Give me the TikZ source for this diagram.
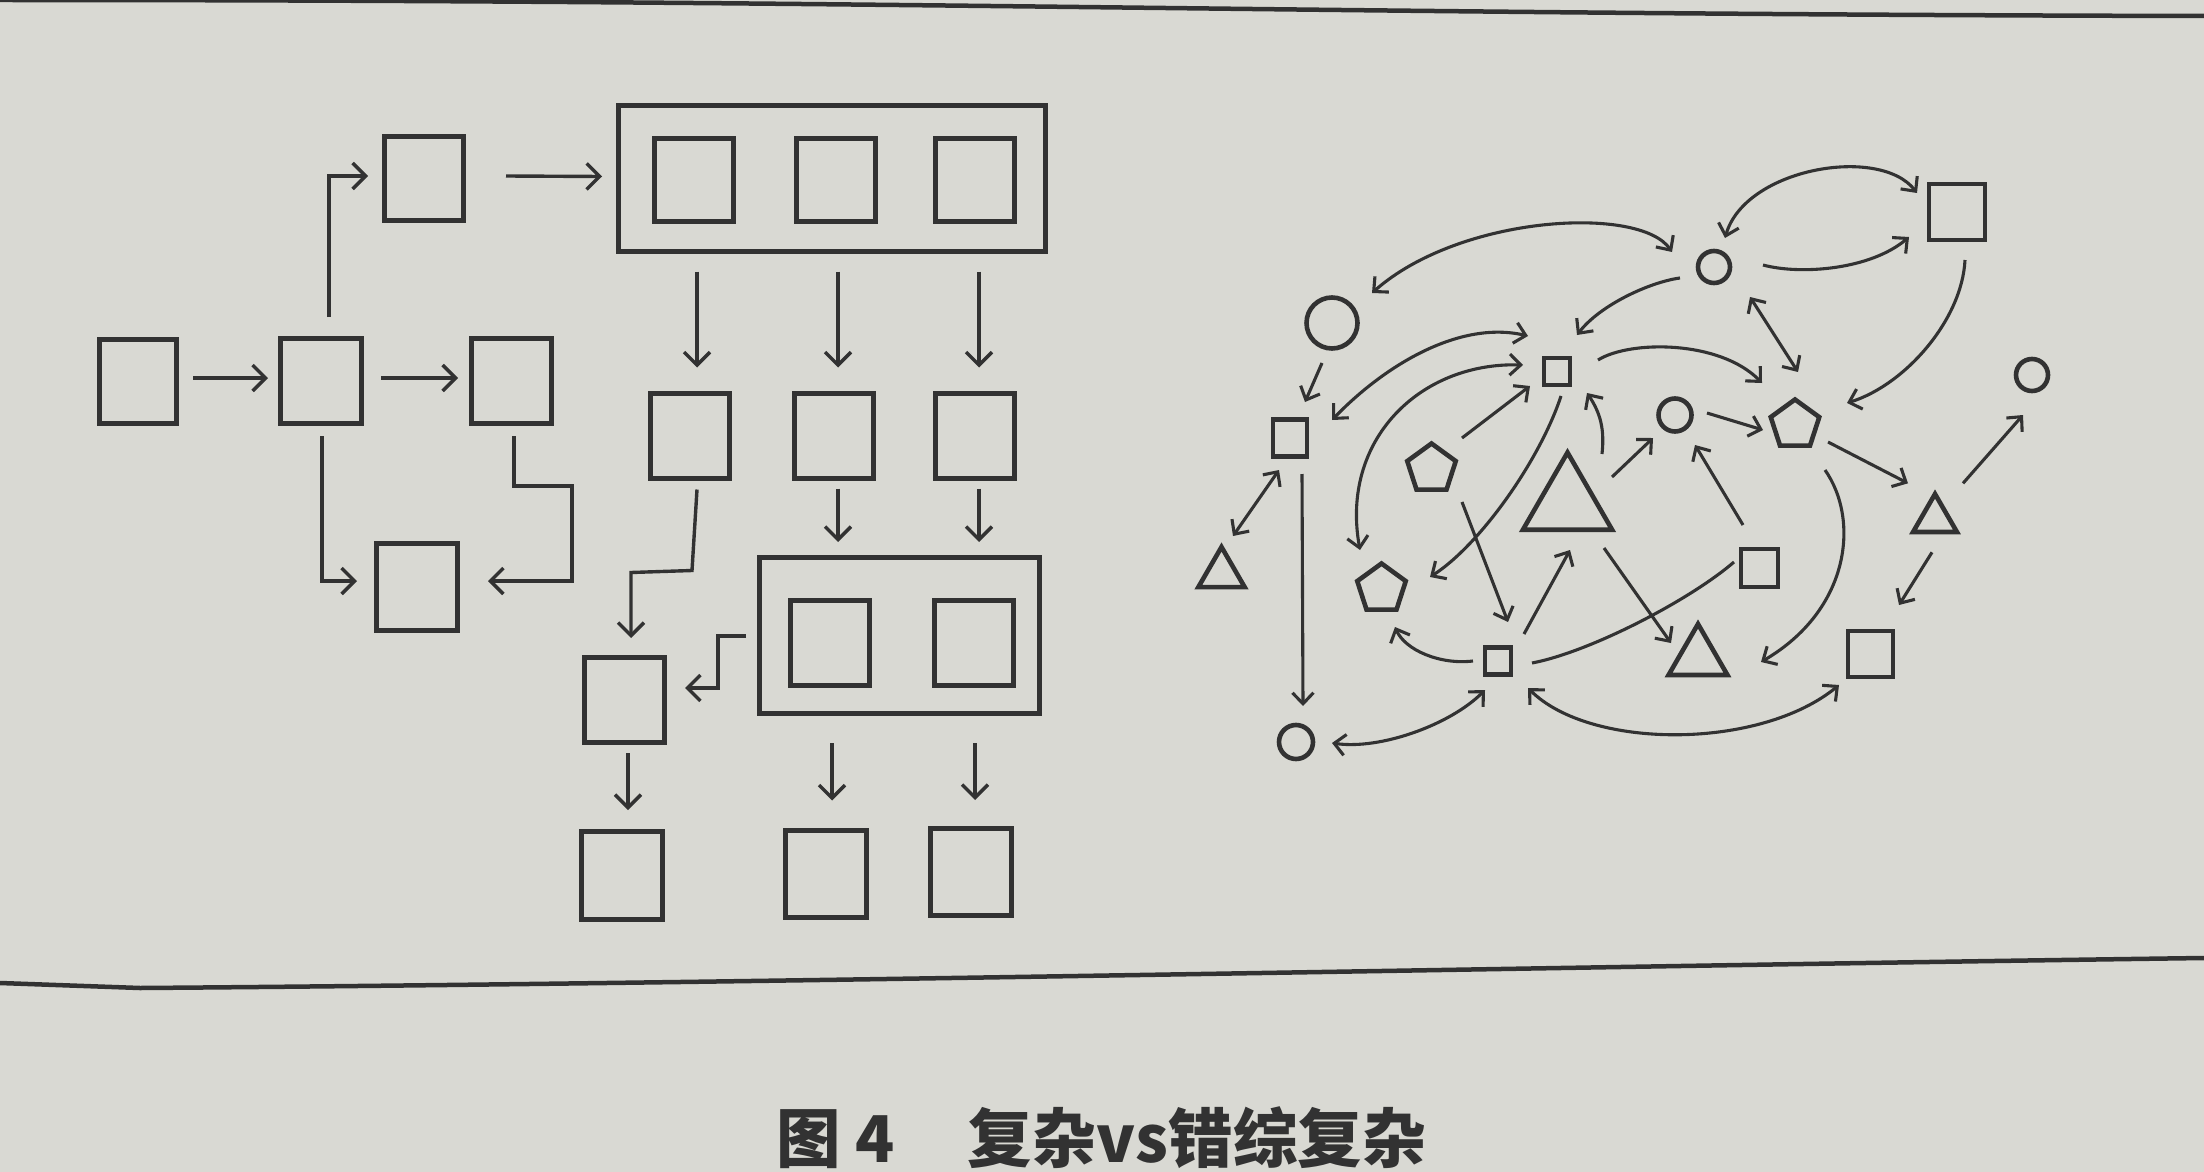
\documentclass[tikz,border=0pt]{standalone}
\usepackage{fontspec}
\newfontfamily\cjk{Noto Sans CJK SC}
\usetikzlibrary{arrows.meta,shapes.geometric}
\definecolor{inkc}{RGB}{50,50,50}
\definecolor{paper}{RGB}{217,217,211}
\begin{document}
\begin{tikzpicture}[x=1pt,y=-1pt,
  box/.style={draw=inkc, line width=5pt, rectangle, inner sep=0pt, minimum width=79pt, minimum height=85pt},
  framebox/.style={draw=inkc, line width=5pt, rectangle, inner sep=0pt},
  arrL/.style={draw=inkc, line width=3.4pt, -{Straight Barb[length=13pt,width=26pt]}},
  gsq/.style={draw=inkc, line width=4.6pt, rectangle, inner sep=0pt},
  gci/.style={draw=inkc, line width=4.6pt, circle, inner sep=0pt},
  gpe/.style={draw=inkc, line width=4.6pt, regular polygon, regular polygon sides=5, inner sep=0pt, minimum size=51pt},
  gtr/.style={draw=inkc, line width=4.6pt, regular polygon, regular polygon sides=3, inner sep=0pt},
  ed/.style={draw=inkc, line width=3.1pt},
  ea/.style={ed, -{Straight Barb[length=11pt,width=21pt]}},
  eb/.style={ed, {Straight Barb[length=11pt,width=21pt]}-{Straight Barb[length=11pt,width=21pt]}},
  pageline/.style={draw=inkc, line width=4.5pt}
]
\fill[paper] (0,0) rectangle (2204,1172);
\useasboundingbox (0,0) rectangle (2204,1172);

% page rules
\draw[pageline] (0,0) .. controls (900,0) and (1300,14) .. (2204,16);
\draw[pageline] (0,983) -- (140,988) .. controls (800,983) and (1600,966) .. (2204,958);

% ---------- left diagram ----------
\node[box, minimum width=77pt, minimum height=84pt] (nA) at (138,381.5) {};
\node[box, minimum width=81pt] (nB) at (321,381) {};
\node[box, minimum width=80pt] (nC) at (511.5,381) {};
\node[box, minimum height=84pt] (nD) at (424,178.5) {};
\node[box, minimum width=81pt, minimum height=87pt] (nE) at (417,587) {};
\node[framebox, minimum width=427pt, minimum height=146pt] (nF) at (832,178) {};
\node[box, minimum height=83pt] (f1) at (694,180) {};
\node[box, minimum height=83pt] (f2) at (835.5,180) {};
\node[box, minimum height=83pt] (f3) at (974.5,180) {};
\node[box] (m1) at (690,435.5) {};
\node[box] (m2) at (833.5,435.5) {};
\node[box] (m3) at (974.5,435.5) {};
\node[framebox, minimum width=280pt, minimum height=156pt] (nG) at (899.5,635.5) {};
\node[box] (g1) at (830,643) {};
\node[box] (g2) at (973.5,643) {};
\node[box, minimum width=80pt] (nH) at (624.5,700) {};
\node[box, minimum width=81pt, minimum height=88pt] (b1) at (622,875.5) {};
\node[box, minimum width=81pt, minimum height=87pt] (b2) at (826,873.5) {};
\node[box, minimum width=81pt, minimum height=87pt] (b3) at (971,872) {};

\draw[arrL] ([shift={(14,-3.5)}]nA.east) -- ([shift={(-10,-3)}]nB.west);
\draw[arrL] ([shift={(17,-3)}]nB.east) -- ([shift={(-11,-3)}]nC.west);
\draw[arrL] ([shift={(8,-19)}]nB.north) |- ([shift={(-14,-2.5)}]nD.west);
\draw[arrL] ([shift={(40,-2.5)}]nD.east) -- ([shift={(-14,-2)}]nD.east -| nF.west);
\draw[arrL] ([shift={(1,10)}]nB.south) |- ([shift={(-17,-6)}]nE.west);
\draw[arrL] ([shift={(2.5,10)}]nC.south) -- ++(0,50) -- ++(58,0) |- ([shift={(28,-6)}]nE.east);
\draw[arrL] ([shift={(3,18)}]f1.south |- nF.south) -- ([shift={(7,-23)}]m1.north);
\draw[arrL] ([shift={(2.5,18)}]f2.south |- nF.south) -- ([shift={(4.5,-23)}]m2.north);
\draw[arrL] ([shift={(4.5,18)}]f3.south |- nF.south) -- ([shift={(4.5,-23)}]m3.north);
\draw[arrL] ([shift={(4.5,8)}]m2.south) -- ([shift={(4.5,-13)}]m2.south |- nG.north);
\draw[arrL] ([shift={(4.5,8)}]m3.south) -- ([shift={(4.5,-13)}]m3.south |- nG.north);
\draw[arrL] ([shift={(7,9)}]m1.south) -- ++(-5,81) -- ++(-61,2) -- ([shift={(6.5,-17)}]nH.north);
\draw[arrL] ([shift={(-11,0.5)}]nG.west) -- ++(-28,0) |- ([shift={(18,-12)}]nH.east);
\draw[arrL] ([shift={(3.5,8)}]nH.south) -- ([shift={(6,-19)}]b1.north);
\draw[arrL] ([shift={(2,27)}]g1.south |- nG.south) -- ([shift={(6,-27)}]b2.north);
\draw[arrL] ([shift={(1.5,27)}]g2.south |- nG.south) -- ([shift={(4,-26)}]b3.north);

% ---------- right diagram ----------
\node[gsq, minimum width=56pt, minimum height=56pt] (sqB) at (1957,212) {};
\node[gci, minimum size=32pt] (cT) at (1714,267) {};
\node[gci, minimum size=51pt] (cBig) at (1332,323) {};
\node[gsq, minimum width=26pt, minimum height=27pt] (sq4) at (1557,371.5) {};
\node[gsq, minimum width=34pt, minimum height=37pt] (sq5) at (1290,438) {};
\node[gci, minimum size=33pt] (c6) at (1675,415) {};
\node[gpe] (p7) at (1795,425) {};
\node[gci, minimum size=32pt] (c8) at (2032,375) {};
\node[gpe] (p9) at (1431.5,469) {};
\node[gtr, minimum size=103pt] (bigT) at (1567.5,504) {};
\node[gtr, minimum size=53.4pt] (T11) at (1221.5,573.7) {};
\node[gpe] (p12) at (1381.5,589) {};
\node[gtr, minimum size=50.6pt] (T13) at (1935,519.3) {};
\node[gsq, minimum width=37pt, minimum height=38pt] (sq14) at (1759.5,568) {};
\node[gsq, minimum width=26pt, minimum height=27pt] (sq15) at (1498,661) {};
\node[gtr, minimum size=68pt] (T16) at (1698,658) {};
\node[gsq, minimum width=45pt, minimum height=46pt] (sq17) at (1870.5,654) {};
\node[gci, minimum size=34pt] (c18) at (1296,742) {};

\draw[eb] ([shift={(40,-30)}]cBig.center) .. controls +(88,-78) and +(-32,-47) .. ([shift={(-42,-15)}]cT.center);
\draw[eb] ([shift={(11,-29)}]cT.center) .. controls +(20,-70) and +(-37,-48) .. ([shift={(-40,-19)}]sqB.center);
\draw[ea] ([shift={(49,-2)}]cT.center) .. controls +(37,10) and +(-39,33) .. ([shift={(-48,25)}]sqB.center);
\draw[ea] ([shift={(-34,11)}]cT.center) .. controls +(-30,4) and +(23,-30) .. ([shift={(20,-36.5)}]sq4.center);
\draw[eb] ([shift={(36,30)}]cT.center) -- ([shift={(3,-53)}]p7.center);
\draw[ea] ([shift={(8,48)}]sqB.center) .. controls +(-3,60) and +(58,-18) .. ([shift={(52,-22)}]p7.center);
\draw[ea] ([shift={(-10,40)}]cBig.center) -- ([shift={(15,-36)}]sq5.center);
\draw[eb] ([shift={(42,-18)}]sq5.center) .. controls +(53,-55) and +(-68,-16) .. ([shift={(-29,-35.5)}]sq4.center);
\draw[eb] ([shift={(-34,-6.5)}]sq4.center) .. controls +(-103,-3) and +(-20,-110) .. ([shift={(-21.5,-39)}]p12.center);
\draw[ea] ([shift={(30.5,-31)}]p9.center) -- ([shift={(-27,14.5)}]sq4.center);
\draw[ea] ([shift={(4,24.5)}]sq4.center) .. controls +(-21,64) and +(50,-32) .. ([shift={(48.5,-12)}]p12.center);
\draw[ea] ([shift={(34.5,-50)}]bigT.center) to[bend right=20] ([shift={(30,21.5)}]sq4.center);
\draw[ea] ([shift={(41,-11.5)}]sq4.center) .. controls +(32,-20) and +(-42,-43) .. ([shift={(-33,-42)}]p7.center);
\draw[ea] ([shift={(32,-2)}]c6.center) -- ([shift={(-32,5)}]p7.center);
\draw[ea] ([shift={(44.5,-27)}]bigT.center) -- ([shift={(-22,23)}]c6.center);
\draw[ea] ([shift={(-16.5,-43)}]sq14.center) -- ([shift={(20,30)}]c6.center);
\draw[ea] ([shift={(33,17)}]p7.center) -- ([shift={(-27,-36)}]T13.center);
\draw[ea] ([shift={(28,-36)}]T13.center) -- ([shift={(-9,40)}]c8.center);
\draw[ea] ([shift={(-3,33)}]T13.center) -- ([shift={(28.5,-49)}]sq17.center);
\draw[ea] ([shift={(30,45)}]p7.center) .. controls +(35,50) and +(89,-52) .. ([shift={(63,4)}]T16.center);
\draw[ea] ([shift={(30.5,33)}]p9.center) -- ([shift={(10,-39)}]sq15.center);
\draw[ea] ([shift={(26,-27)}]sq15.center) -- ([shift={(2.5,46)}]bigT.center);
\draw[ea] ([shift={(36.5,44)}]bigT.center) -- ([shift={(-27,-15)}]T16.center);
\draw[ea] ([shift={(-25,0)}]sq15.center) .. controls +(-33,4) and +(10,23) .. ([shift={(13.5,38)}]p12.center);
\draw[ed] ([shift={(34,2)}]sq15.center) .. controls +(58,-11) and +(-44,38) .. ([shift={(-25.5,-6)}]sq14.center);
\draw[eb] ([shift={(30,27)}]sq15.center) .. controls +(62,62) and +(-79,65) .. ([shift={(-31.5,31)}]sq17.center);
\draw[eb] ([shift={(-13,29)}]sq15.center) .. controls +(-35,35) and +(48,7) .. ([shift={(36,1)}]c18.center);
\draw[ea] ([shift={(12,36)}]sq5.center) -- ([shift={(7,-36)}]c18.center);
\draw[eb] ([shift={(-11,32)}]sq5.center) -- ([shift={(11.5,-37.7)}]T11.center);

% ---------- caption ----------
\node[anchor=base west, inner sep=0pt, text=inkc, font={\cjk\bfseries\fontsize{64.5}{64.5}\selectfont}] (cap) at (776,1162) {图 4\hspace{73pt}复杂vs错综复杂};
\end{tikzpicture}
\end{document}
